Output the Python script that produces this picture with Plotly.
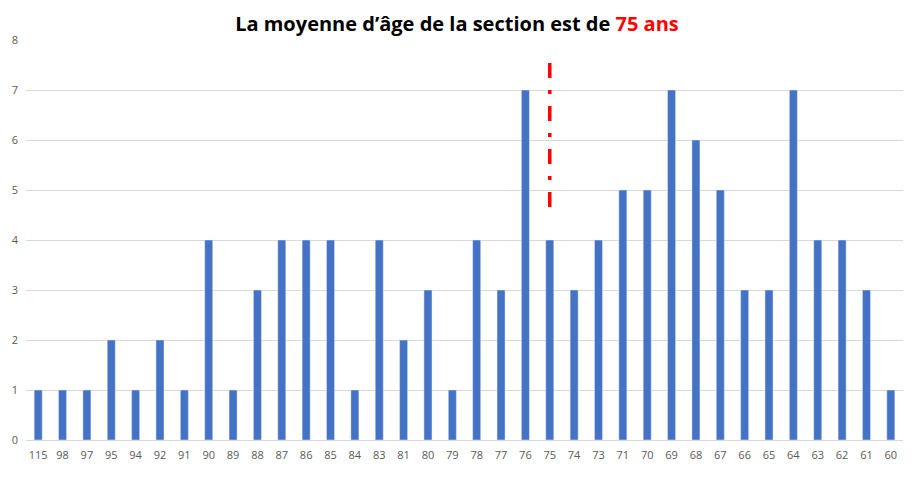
import plotly.graph_objects as go

ages = ["115", "98", "97", "95", "94", "92", "91", "90", "89", "88", "87", "86", "85", "84",
        "83", "81", "80", "79", "78", "77", "76", "75", "74", "73", "71", "70", "69", "68",
        "67", "66", "65", "64", "63", "62", "61", "60"]
counts = [1, 1, 1, 2, 1, 2, 1, 4, 1, 3, 4, 4, 4, 1, 4, 2, 3, 1, 4, 3, 7, 4, 3, 4, 5, 5, 7,
          6, 5, 3, 3, 7, 4, 4, 3, 1]
mean_age = "75"
mean_line_y = [4.66, 7.66]
y_ticks = [0, 1, 2, 3, 4, 5, 6, 7, 8]

fig = go.Figure()
fig.add_trace(go.Bar(x=ages, y=counts, marker_color="#4472C4", width=0.33))
fig.add_trace(go.Scatter(x=[mean_age, mean_age], y=mean_line_y, mode="lines",
                         line=dict(color="#FF0000", width=3.5, dash="15px,12px,4px,12px"),
                         hoverinfo="skip"))

fig.update_layout(
    width=907, height=463,
    margin=dict(l=18, r=12, t=32, b=31),
    paper_bgcolor="white", plot_bgcolor="white",
    showlegend=False,
    title=dict(
        text="La moyenne d’âge de la section est de <span style='color:#FF0000'>75 ans</span>",
        x=0.495, xanchor="center", y=0.965, yanchor="middle",
        font=dict(family="Open Sans", size=20, color="#000000", weight="bold"),
    ),
    xaxis=dict(type="category", categoryorder="array", categoryarray=ages,
               showgrid=False, showline=True, linecolor="#d9d9d9", linewidth=1,
               ticks="", ticklabelstandoff=5, automargin=False,
               tickfont=dict(family="Open Sans", size=11, color="#595959")),
    yaxis=dict(range=[0, 8], tickvals=y_ticks, showgrid=True, gridcolor="#d9d9d9",
               gridwidth=1, zeroline=False, showline=False, ticks="",
               ticklabelstandoff=7, automargin=False,
               tickfont=dict(family="Open Sans", size=11, color="#595959")),
    bargap=0.67,
)

fig.write_html("out.html")
